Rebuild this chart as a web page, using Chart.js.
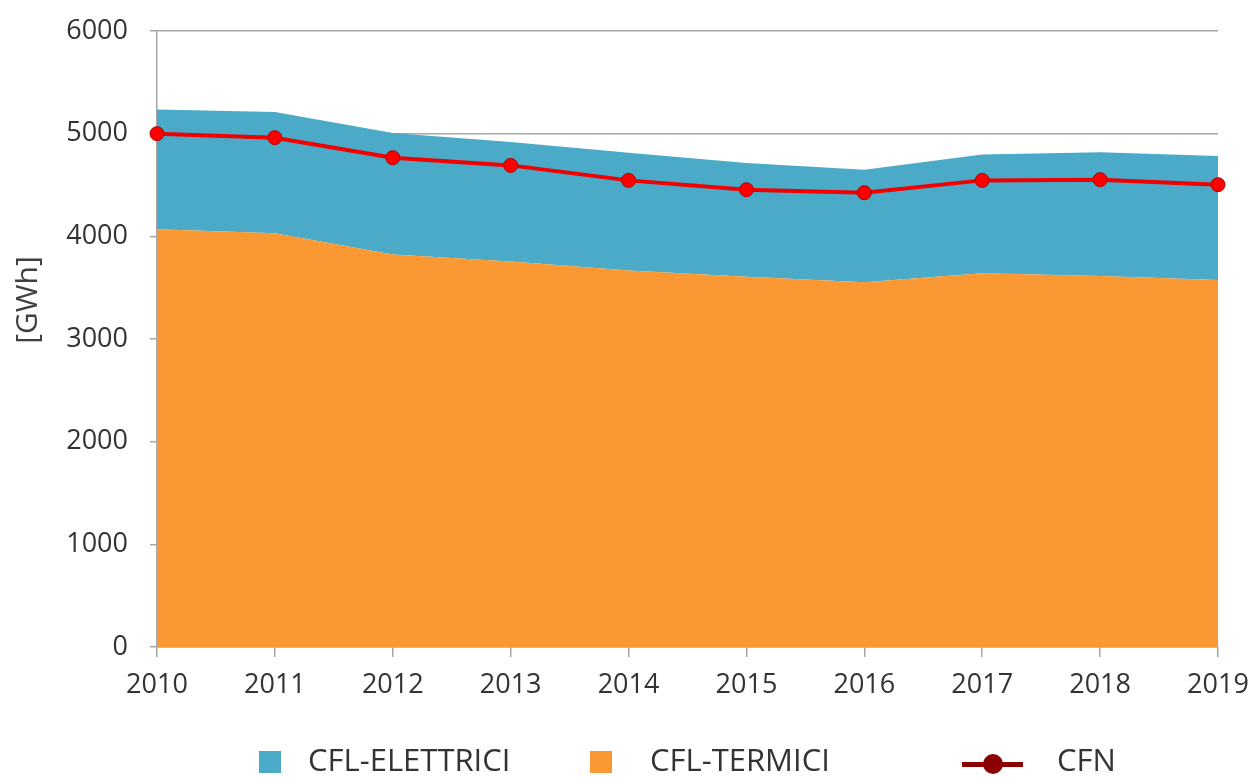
<!DOCTYPE html>
<html>
<head>
<meta charset="utf-8">
<script src="https://cdn.jsdelivr.net/npm/chart.js@4.4.1/dist/chart.umd.min.js"></script>
<style>
  html, body { margin: 0; padding: 0; background: #ffffff; }
  #wrap { position: relative; width: 1256px; height: 777px; overflow: hidden; }
  #c { position: absolute; left: 0; top: 0; }
  .lg { position: absolute; font-family: "Open Sans", sans-serif; font-size: 31px; line-height: 31px; color: #333333; white-space: nowrap; }
  .sw { position: absolute; width: 22px; height: 22px; }
  .ln { position: absolute; height: 5px; background: #8B0000; }
  .dot { position: absolute; width: 20px; height: 20px; border-radius: 50%; background: #8B0000; }
</style>
</head>
<body>
<div id="wrap">
  <canvas id="c" width="1256" height="777"></canvas>
  <div class="sw" style="left:259px; top:751px; background:#4AAAC8;"></div>
  <div class="lg" style="left:308px; top:744px;">CFL-ELETTRICI</div>
  <div class="sw" style="left:590px; top:751px; background:#FA9834;"></div>
  <div class="lg" style="left:650px; top:744px;">CFL-TERMICI</div>
  <div class="ln" style="left:962px; top:762px; width:61px;"></div>
  <div class="dot" style="left:983px; top:754px;"></div>
  <div class="lg" style="left:1057px; top:744px;">CFN</div>
</div>
<script>
const years = ['2010', '2011', '2012', '2013', '2014', '2015', '2016', '2017', '2018', '2019'];
const cflTermici = [4068, 4029, 3824, 3756, 3666, 3607, 3552, 3640, 3614, 3575];
const cflElettrici = [1167, 1182, 1182, 1162, 1147, 1107, 1097, 1158, 1204, 1207];
const cfn = [5000, 4961, 4766, 4691, 4545, 4454, 4425, 4545, 4552, 4503];
const yTicks = [0, 1000, 2000, 3000, 4000, 5000, 6000];
const yTitle = '[GWh]';

const tickFont = { family: 'Open Sans', size: 27 };
const gridGray = '#a6a6a6';

const yTitlePlugin = {
  id: 'yTitlePlugin',
  afterDraw(chart) {
    const ctx = chart.ctx;
    const area = chart.chartArea;
    ctx.save();
    ctx.translate(28, (area.top + area.bottom) / 2 - 39);
    ctx.rotate(-Math.PI / 2);
    ctx.font = '30px "Open Sans"';
    ctx.fillStyle = '#404040';
    ctx.textAlign = 'center';
    ctx.textBaseline = 'middle';
    ctx.fillText(yTitle, 0, 0);
    ctx.restore();
  }
};

new Chart(document.getElementById('c'), {
  type: 'line',
  data: {
    labels: years,
    datasets: [
      {
        label: 'CFL-TERMICI',
        data: cflTermici,
        backgroundColor: '#FA9834',
        borderColor: '#FA9834',
        borderWidth: 0,
        pointRadius: 0,
        fill: 'origin',
        stack: 'cfl',
        tension: 0,
        order: 1
      },
      {
        label: 'CFL-ELETTRICI',
        data: cflElettrici,
        backgroundColor: '#4AAAC8',
        borderColor: '#4AAAC8',
        borderWidth: 0,
        pointRadius: 0,
        fill: '-1',
        stack: 'cfl',
        tension: 0,
        order: 2
      },
      {
        label: 'CFN',
        data: cfn,
        borderColor: '#F20000',
        borderWidth: 4,
        pointRadius: 7,
        pointBackgroundColor: '#FF0000',
        pointBorderColor: '#B00000',
        pointBorderWidth: 1,
        fill: false,
        stack: 'cfn',
        tension: 0,
        order: -1
      }
    ]
  },
  options: {
    responsive: false,
    animation: false,
    layout: { padding: { left: 10, right: 38, top: 31, bottom: 0 } },
    plugins: {
      legend: { display: false },
      tooltip: { enabled: false }
    },
    scales: {
      x: {
        offset: false,
        grid: { drawOnChartArea: false, drawTicks: true, tickLength: 10, color: gridGray, lineWidth: 1.5 },
        border: { color: gridGray, width: 1.5 },
        ticks: { font: tickFont, color: '#333333', padding: 12, maxRotation: 0 },
        afterFit(scale) { scale.height = 130; scale.paddingLeft = 0; scale.paddingRight = 0; }
      },
      y: {
        stacked: true,
        min: 0,
        max: 6000,
        afterBuildTicks(scale) { scale.ticks = yTicks.map(v => ({ value: v })); },
        grid: { color: gridGray, lineWidth: 1.5, tickLength: 7 },
        border: { color: gridGray, width: 1.5 },
        ticks: { font: tickFont, color: '#333333', padding: 22, callback: (v) => String(v) },
        afterFit(scale) { scale.width = 147; scale.paddingTop = 0; scale.paddingBottom = 0; }
      }
    }
  },
  plugins: [yTitlePlugin]
});
</script>
</body>
</html>
